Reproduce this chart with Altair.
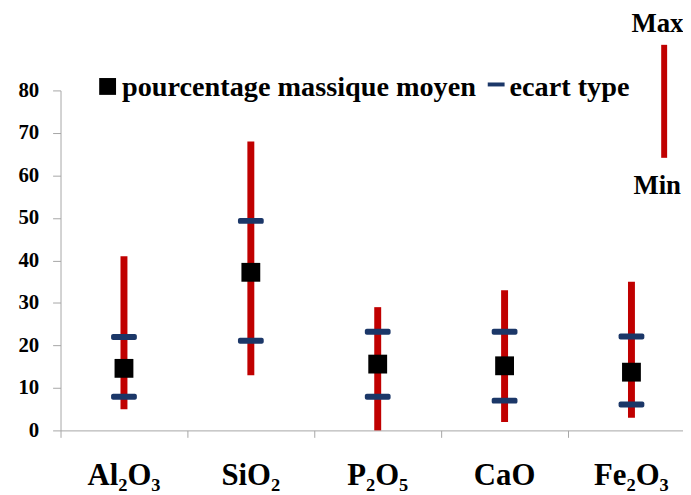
import altair as alt
import pandas as pd

oxides = ["Al₂O₃", "SiO₂", "P₂O₅", "CaO", "Fe₂O₃"]
mins = [5, 13, 0, 2, 3]
maxs = [41, 68, 29, 33, 35]
means = [14.6, 37.2, 15.6, 15.2, 13.7]
sd_low = [7.9, 21.1, 7.9, 7.0, 6.1]
sd_high = [22.0, 49.3, 23.2, 23.2, 22.1]
y_ticks = [0, 10, 20, 30, 40, 50, 60, 70, 80]

df = pd.DataFrame({
    "oxide": oxides,
    "idx": list(range(len(oxides))),
    "min": mins,
    "max": maxs,
    "mean": means,
    "lo": sd_low,
    "hi": sd_high,
})

W, H = 628, 343
STEP = 128.0
x_dom = [-0.5, -0.5 + W / STEP]
FONT = "'Liberation Serif', 'Times New Roman', 'DejaVu Serif', serif"
RED = "#C00000"
NAVY = "#1B3768"

xs = alt.Scale(domain=x_dom, nice=False, zero=False)
ys = alt.Scale(domain=[0, 80], nice=False)

x_axis = alt.Axis(values=[-0.5, 0.5, 1.5, 2.5, 3.5], labels=False, title=None,
                  grid=False, tickSize=7, tickColor="#A6A6A6", domainColor="#A6A6A6")
y_axis = alt.Axis(values=y_ticks, title=None, grid=False, tickSize=8,
                  tickColor="#A6A6A6", domainColor="#A6A6A6",
                  labelFont=FONT, labelFontSize=21, labelFontWeight="bold",
                  labelColor="black", labelPadding=14)

base = alt.Chart(df)

rng = base.mark_rule(color=RED, strokeWidth=7, strokeCap="butt").encode(
    x=alt.X("idx:Q", scale=xs, axis=x_axis),
    y=alt.Y("min:Q", scale=ys, axis=y_axis),
    y2="max:Q",
)
lo = base.mark_tick(orient="horizontal", size=26, thickness=6, color=NAVY,
                    cornerRadius=2, opacity=1).encode(
    x=alt.X("idx:Q", scale=xs), y=alt.Y("lo:Q", scale=ys))
hi = base.mark_tick(orient="horizontal", size=26, thickness=6, color=NAVY,
                    cornerRadius=2, opacity=1).encode(
    x=alt.X("idx:Q", scale=xs), y=alt.Y("hi:Q", scale=ys))
mean = base.mark_square(size=361, color="black", opacity=1, cornerRadius=2).encode(
    x=alt.X("idx:Q", scale=xs), y=alt.Y("mean:Q", scale=ys))

labels = base.mark_text(font=FONT, fontSize=31, fontWeight="bold", color="black",
                        baseline="alphabetic", align="center").encode(
    x=alt.X("idx:Q", scale=xs), y=alt.value(H + 55), text="oxide:N")

one = alt.Data(values=[{"k": 0}])
leg_sq = alt.Chart(one).mark_square(size=289, color="black", opacity=1).encode(
    x=alt.value(47.5), y=alt.value(-4))
leg_t1 = alt.Chart(one).mark_text(font=FONT, fontSize=28.5, fontWeight="bold", color="black",
                                  align="left", baseline="alphabetic").encode(
    x=alt.value(62), y=alt.value(6), text=alt.value("pourcentage massique moyen"))
leg_dash = alt.Chart(one).mark_rule(color=NAVY, strokeWidth=4).encode(
    x=alt.value(431), x2=alt.value(448), y=alt.value(-6))
leg_t2 = alt.Chart(one).mark_text(font=FONT, fontSize=28.5, fontWeight="bold", color="black",
                                  align="left", baseline="alphabetic").encode(
    x=alt.value(453), y=alt.value(6), text=alt.value("ecart type"))
leg_max = alt.Chart(one).mark_text(font=FONT, fontSize=27, fontWeight="bold", color="black",
                                   align="left", baseline="alphabetic").encode(
    x=alt.value(576), y=alt.value(-59), text=alt.value("Max"))
leg_line = alt.Chart(one).mark_rule(color=RED, strokeWidth=6).encode(
    x=alt.value(609), y=alt.value(-46), y2=alt.value(68))
leg_min = alt.Chart(one).mark_text(font=FONT, fontSize=27, fontWeight="bold", color="black",
                                   align="left", baseline="alphabetic").encode(
    x=alt.value(578), y=alt.value(104), text=alt.value("Min"))

chart = alt.layer(
    rng, lo, hi, mean, labels,
    leg_sq, leg_t1, leg_dash, leg_t2, leg_max, leg_line, leg_min,
).properties(
    width=W, height=H,
    autosize=alt.AutoSizeParams(type="none"),
    padding={"left": 53, "top": 81, "right": 0, "bottom": 60},
    background="white",
).configure_view(stroke=None)

chart.save("out.html", embed_options={"renderer": "svg", "actions": False})
